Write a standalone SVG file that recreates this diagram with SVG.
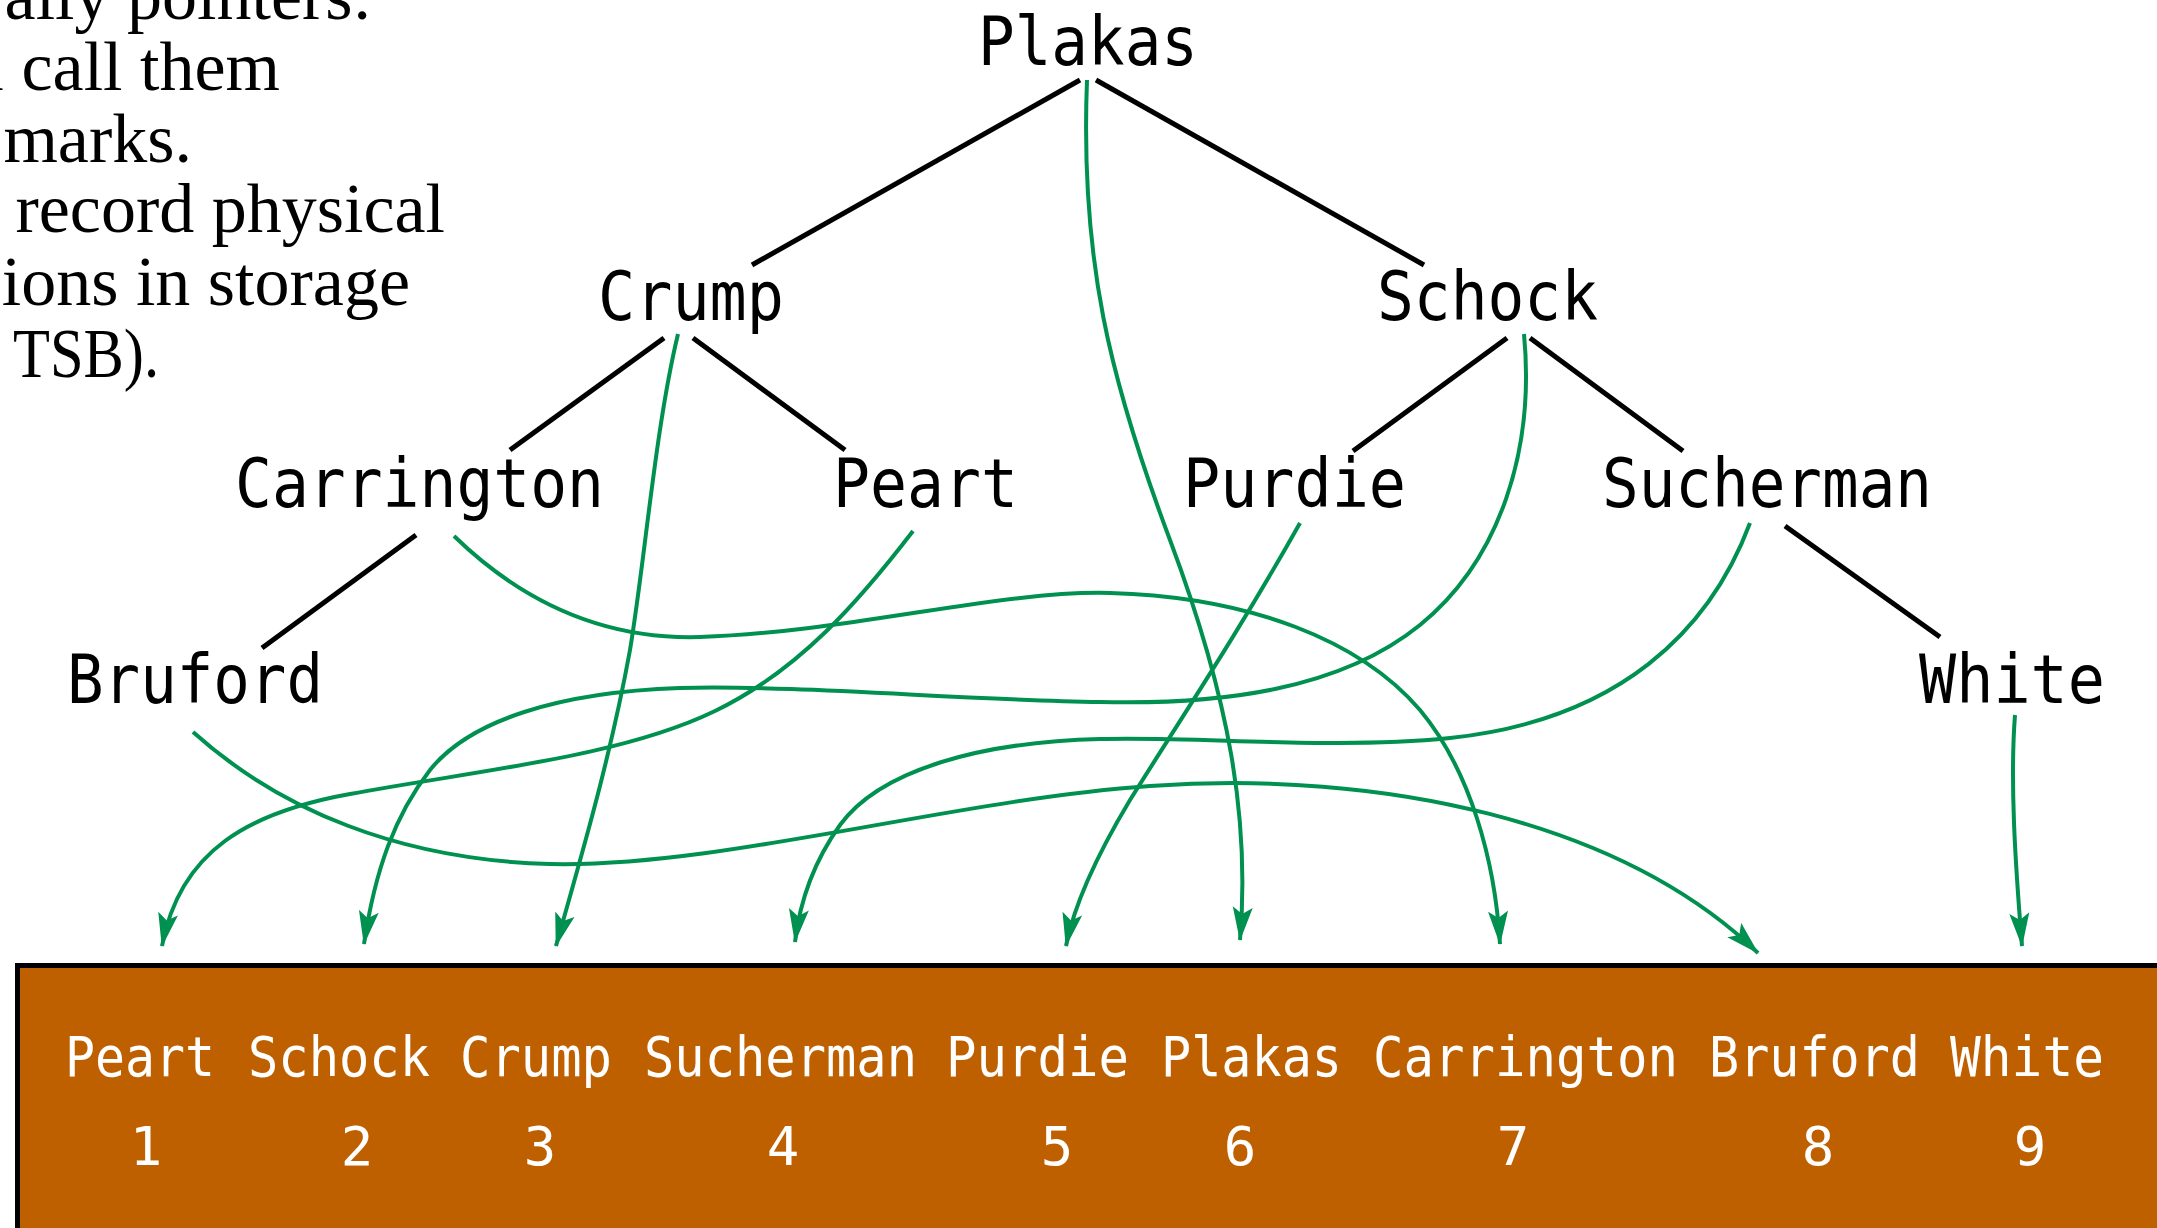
<svg xmlns="http://www.w3.org/2000/svg" width="2157" height="1228" viewBox="0 0 2157 1228">
<style>
.note{font-family:"Liberation Serif","Times New Roman",serif;font-size:70px;fill:#000;text-anchor:end}
.t{font-family:"DejaVu Sans Mono","Liberation Mono",monospace;font-size:68px;fill:#000}
.b{font-family:"DejaVu Sans Mono","Liberation Mono",monospace;font-size:55px;fill:#fff}
.n{font-family:"DejaVu Sans Mono","Liberation Mono",monospace;font-size:54px;fill:#fff;text-anchor:middle}
.edge{stroke:#000;stroke-width:5;fill:none}
.ptr{stroke:#009150;stroke-width:4;fill:none;marker-end:url(#ah)}
</style>
<defs>
<marker id="ah" viewBox="0 0 34 22" refX="33" refY="11" markerWidth="34" markerHeight="22" markerUnits="userSpaceOnUse" orient="auto">
<path d="M0,1 L34,11 L0,21 L7,11 z" fill="#009150"/>
</marker>
</defs>
<rect width="2157" height="1228" fill="#fff"/>
<g id="notes">
<text class="note" x="372" y="19">ally pointers:</text>
<text class="note" x="280" y="90">l call them</text>
<text class="note" x="192" y="162">marks.</text>
<text class="note" x="445" y="232">record physical</text>
<text class="note" x="410" y="305">ions in storage</text>
<text class="note" x="159" y="377" textLength="146" lengthAdjust="spacingAndGlyphs">TSB).</text>
</g>
<g id="tree-edges">
<line class="edge" x1="1080" y1="80" x2="752" y2="265"/>
<line class="edge" x1="1096" y1="80" x2="1424" y2="265"/>
<line class="edge" x1="664" y1="338" x2="510" y2="450"/>
<line class="edge" x1="693" y1="338" x2="845" y2="450"/>
<line class="edge" x1="1507" y1="338" x2="1353" y2="451"/>
<line class="edge" x1="1530" y1="338" x2="1683" y2="451"/>
<line class="edge" x1="416" y1="535" x2="262" y2="648"/>
<line class="edge" x1="1785" y1="526" x2="1940" y2="637"/>
</g>
<g id="node-plakas"><text class="t" x="978" y="65" textLength="220" lengthAdjust="spacingAndGlyphs">Plakas</text></g>
<g id="node-crump"><text class="t" x="598" y="320" textLength="186" lengthAdjust="spacingAndGlyphs">Crump</text></g>
<g id="node-schock"><text class="t" x="1377" y="320" textLength="221" lengthAdjust="spacingAndGlyphs">Schock</text></g>
<g id="node-carrington"><text class="t" x="235" y="507" textLength="369" lengthAdjust="spacingAndGlyphs">Carrington</text></g>
<g id="node-peart"><text class="t" x="833" y="507" textLength="185" lengthAdjust="spacingAndGlyphs">Peart</text></g>
<g id="node-purdie"><text class="t" x="1183" y="507" textLength="223" lengthAdjust="spacingAndGlyphs">Purdie</text></g>
<g id="node-sucherman"><text class="t" x="1602" y="507" textLength="330" lengthAdjust="spacingAndGlyphs">Sucherman</text></g>
<g id="node-bruford"><text class="t" x="67" y="703" textLength="256" lengthAdjust="spacingAndGlyphs">Bruford</text></g>
<g id="node-white"><text class="t" x="1919" y="703" textLength="186" lengthAdjust="spacingAndGlyphs">White</text></g>
<g id="storage">
<rect x="17.5" y="965.5" width="2200" height="300" fill="#bf6000" stroke="#000" stroke-width="5"/>
<text class="b" x="65" y="1076" textLength="150" lengthAdjust="spacingAndGlyphs">Peart</text>
<text class="b" x="248" y="1076" textLength="182" lengthAdjust="spacingAndGlyphs">Schock</text>
<text class="b" x="460" y="1076" textLength="152" lengthAdjust="spacingAndGlyphs">Crump</text>
<text class="b" x="644" y="1076" textLength="273" lengthAdjust="spacingAndGlyphs">Sucherman</text>
<text class="b" x="946" y="1076" textLength="183" lengthAdjust="spacingAndGlyphs">Purdie</text>
<text class="b" x="1161" y="1076" textLength="181" lengthAdjust="spacingAndGlyphs">Plakas</text>
<text class="b" x="1373" y="1076" textLength="305" lengthAdjust="spacingAndGlyphs">Carrington</text>
<text class="b" x="1709" y="1076" textLength="211" lengthAdjust="spacingAndGlyphs">Bruford</text>
<text class="b" x="1950" y="1076" textLength="154" lengthAdjust="spacingAndGlyphs">White</text>
<text class="n" x="146" y="1165">1</text>
<text class="n" x="357" y="1165">2</text>
<text class="n" x="540" y="1165">3</text>
<text class="n" x="783" y="1165">4</text>
<text class="n" x="1057" y="1165">5</text>
<text class="n" x="1240" y="1165">6</text>
<text class="n" x="1513" y="1165">7</text>
<text class="n" x="1818" y="1165">8</text>
<text class="n" x="2030" y="1165">9</text>
</g>
<g id="connectors">
<path class="ptr" d="M678,334 C655,430 645,560 630,650 C610,760 580,860 556,946"/>
<path class="ptr" d="M1087,80 C1080,260 1110,380 1170,540 C1230,700 1250,820 1240,940"/>
<path class="ptr" d="M454,536 C520,600 600,640 700,637 C850,632 1000,590 1110,593 C1250,597 1360,640 1420,710 C1470,770 1495,860 1500,944"/>
<path class="ptr" d="M913,531 C860,600 800,670 715,711 C620,757 480,770 350,794 C250,812 180,850 162,946"/>
<path class="ptr" d="M1524,334 C1535,450 1500,560 1420,625 C1340,690 1220,705 1100,702 C960,700 800,685 680,688 C560,692 470,720 430,770 C395,815 375,870 364,944"/>
<path class="ptr" d="M1300,523 C1240,630 1180,720 1130,800 C1100,850 1075,900 1066,946"/>
<path class="ptr" d="M1750,523 C1710,630 1620,720 1450,738 C1330,750 1200,736 1100,739 C980,742 880,770 840,825 C815,860 800,900 795,942"/>
<path class="ptr" d="M193,732 C280,810 400,860 550,864 C720,868 950,800 1150,786 C1380,770 1620,820 1758,953"/>
<path class="ptr" d="M2015,715 C2010,780 2015,860 2022,946"/>
</g>
</svg>
